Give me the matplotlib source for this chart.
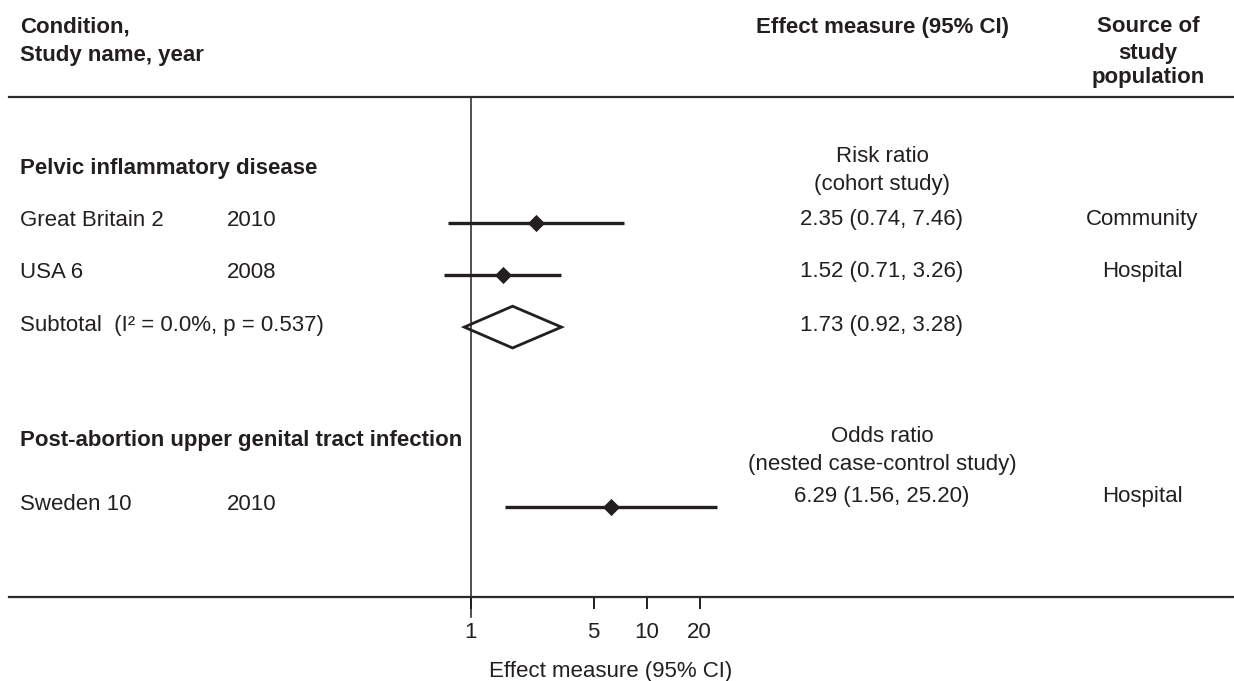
import matplotlib
matplotlib.use('Agg')
import matplotlib.pyplot as plt
import matplotlib.transforms as mtransforms
from matplotlib.ticker import NullLocator

# data
studies = ['Great Britain 2', 'USA 6', 'Sweden 10']
years = ['2010', '2008', '2010']
est = [2.35, 1.52, 6.29]
ci_lo = [0.74, 0.71, 1.56]
ci_hi = [7.46, 3.26, 25.20]
sources = ['Community', 'Hospital', 'Hospital']
rows = [1, 2, 6.45]          # row of each study in the table

sub_est, sub_lo, sub_hi = 1.73, 0.92, 3.28
sub_row = 3
sub_label = 'Subtotal  (I\u00b2 = 0.0%, p = 0.537)'

groups = ['Pelvic inflammatory disease', 'Post-abortion upper genital tract infection']
group_rows = [0, 5.2]
measures = ['Risk ratio\n(cohort study)', 'Odds ratio\n(nested case-control study)']

xticks = [1, 5, 10, 20]

INK = '#231f20'
plt.rcParams['font.family'] = ['Liberation Sans', 'DejaVu Sans']
plt.rcParams['font.size'] = 16
plt.rcParams['text.color'] = INK

W, H = 1234, 681
fig = plt.figure(figsize=(W / 100, H / 100), dpi=100)
ax = fig.add_axes([9 / W, 1 - 597 / H, 1225 / W, 500 / H])
ax.set_xscale('log')
ax.set_xlim(0.002382, 21727)
ax.set_ylim(8.171, -1.408)

for s in ['left', 'right']:
    ax.spines[s].set_visible(False)
for s in ['top', 'bottom']:
    ax.spines[s].set_linewidth(1.6)
    ax.spines[s].set_color('#2b2b2b')
ax.set_yticks([])
ax.set_xticks(xticks)
ax.set_xticklabels([str(t) for t in xticks])
ax.xaxis.set_minor_locator(NullLocator())
ax.tick_params(axis='x', length=8.6, width=1.4, pad=9.4, color=INK, labelcolor=INK, labelsize=16)

# line of no effect
ax.axvline(1, ymin=-0.04, ymax=1, clip_on=False, lw=1.1, color=INK)

# study estimates
ax.hlines(rows, ci_lo, ci_hi, lw=2.4, color=INK)
ax.plot(est, rows, 'D', ms=8.4, color=INK, mec=INK, mew=0.6)

# pooled diamond
ax.fill([sub_lo, sub_est, sub_hi, sub_est], [sub_row, sub_row - 0.4, sub_row, sub_row + 0.4],
        facecolor='white', edgecolor=INK, lw=2.0, joinstyle='miter')

# table text: x in figure pixels, y in rows
tr = mtransforms.blended_transform_factory(fig.transFigure, ax.transData)
def fx(px):
    return px / W

for i in range(len(studies)):
    ax.text(fx(20), rows[i] - 0.05, studies[i], transform=tr, va='center', ha='left')
    ax.text(fx(227), rows[i] - 0.05, years[i], transform=tr, va='center', ha='left')
    dy = -0.06 if i < 2 else -0.2
    ax.text(fx(882), rows[i] + dy, '%.2f (%.2f, %.2f)' % (est[i], ci_lo[i], ci_hi[i]),
            transform=tr, va='center', ha='center')
    ax.text(fx(1142), rows[i] + dy, sources[i], transform=tr, va='center', ha='center')

ax.text(fx(20), sub_row - 0.03, sub_label, transform=tr, va='center', ha='left')
ax.text(fx(882), sub_row - 0.03, '%.2f (%.2f, %.2f)' % (sub_est, sub_lo, sub_hi),
        transform=tr, va='center', ha='center')

for g, r, m in zip(groups, group_rows, measures):
    ax.text(fx(20), r - 0.03, g, transform=tr, va='center', ha='left', fontweight='bold')
    ax.text(fx(882), r + 0.17 if r else r, m, transform=tr, va='center', ha='center',
            multialignment='center', linespacing=1.42)

# column headers
def fy(py):
    return 1 - py / H

fig.text(fx(20), fy(33), 'Condition,', fontweight='bold', va='baseline')
fig.text(fx(20), fy(61), 'Study name, year', fontweight='bold', va='baseline')
fig.text(fx(883), fy(33), 'Effect measure (95% CI)', fontweight='bold', va='baseline', ha='center')
for txt, py in zip(['Source of', 'study', 'population'], [32, 59, 83]):
    fig.text(fx(1148), fy(py), txt, fontweight='bold', va='baseline', ha='center')

fig.text(fx(611), fy(677), 'Effect measure (95% CI)', va='baseline', ha='center')

fig.savefig('out.png', dpi=100)
